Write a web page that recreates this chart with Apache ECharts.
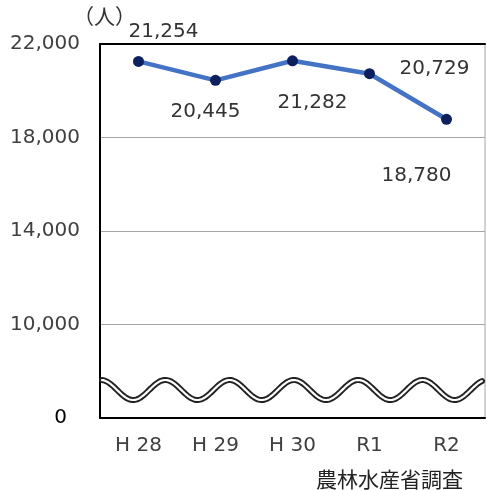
<!DOCTYPE html>
<html><head><meta charset="utf-8">
<script src="https://cdn.jsdelivr.net/npm/echarts@6/dist/echarts.min.js"></script>
<style>html,body{margin:0;padding:0;background:#fff}#c{width:487px;height:490px}</style>
</head><body><div id="c"></div>
<script>
const categories = ['H 28', 'H 29', 'H 30', 'R1', 'R2'];
const values = [21254, 20445, 21282, 20729, 18780];
const yTicks = [6000, 10000, 14000, 18000, 22000];
const yTickLabels = ['0', '10,000', '14,000', '18,000', '22,000'];
const unitLabel = '（人）';
const sourceLabel = '農林水産省調査';
// label offsets (style, not data)
const labelOffsets = [[25, -30], [-10, 31], [20, 42], [65, -5], [-30, 57]];

const chart = echarts.init(document.getElementById('c'), null, {renderer: 'canvas'});
const FONT = 'DejaVu Sans';
const grid = {left: 100, right: 2, top: 44, bottom: 72};

const x0 = grid.left + 2, x1 = 487 - grid.right - 3;
const bottomY = 490 - grid.bottom;
const cy = bottomY - 28, amp = 10, period = 64.3, phase = 101;
const pts = [];
for (let x = x0; x <= x1; x += 1) {
  pts.push([x, cy - amp * Math.cos(2 * Math.PI * (x - phase) / period)]);
}

const option = {
  animation: false,
  grid: Object.assign({show: true, borderColor: '#a6a6a6', borderWidth: 1, backgroundColor: 'transparent'}, grid),
  xAxis: [{
    type: 'category', data: categories, boundaryGap: true,
    axisLine: {show: true, lineStyle: {color: '#000', width: 2}},
    axisTick: {show: false},
    axisLabel: {color: '#404040', fontFamily: FONT, fontSize: 20, margin: 18}
  }, {
    type: 'category', data: categories, position: 'top',
    axisLine: {show: true, lineStyle: {color: '#000', width: 2}},
    axisTick: {show: false}, axisLabel: {show: false}
  }],
  yAxis: {
    type: 'value', min: 6000, max: 22000, interval: 4000,
    axisLine: {show: true, lineStyle: {color: '#000', width: 2}},
    axisTick: {show: false},
    splitLine: {show: true, lineStyle: {color: '#a6a6a6', width: 1}},
    axisLabel: {
      color: '#404040', fontFamily: FONT, fontSize: 20, margin: 20,
      formatter: function (v) {
        const i = yTicks.indexOf(v);
        const t = i >= 0 ? yTickLabels[i] : '';
        return v === yTicks[0] ? '{z|' + t + '}' : t;
      },
      rich: {z: {color: '#000', fontFamily: FONT, fontSize: 20, padding: [0, 13, 0, 0]}}
    }
  },
  series: [{
    type: 'line', data: values.map((v, i) => ({
      value: v,
      label: {offset: labelOffsets[i]}
    })),
    xAxisIndex: 0,
    lineStyle: {color: '#4472C4', width: 4.5},
    itemStyle: {color: '#0d1f5c'},
    symbol: 'circle', symbolSize: 11,
    label: {
      show: true, position: 'inside', align: 'center', verticalAlign: 'middle',
      color: '#333', fontFamily: FONT, fontSize: 20,
      formatter: p => p.value.toLocaleString('en-US')
    },
    z: 5
  }],
  graphic: [
    {type: 'text', left: 73, top: 6, style: {text: unitLabel, fontFamily: 'Noto Sans CJK JP', fontSize: 21, fill: '#333'}},
    {type: 'text', right: 24, top: 469, style: {text: sourceLabel, fontFamily: 'Noto Sans CJK JP', fontSize: 21, fill: '#222'}},
    {type: 'polyline', shape: {points: pts, smooth: 0}, style: {stroke: '#222', lineWidth: 6, fill: null, lineCap: 'round'}, z: 10},
    {type: 'polyline', shape: {points: pts, smooth: 0}, style: {stroke: '#fff', lineWidth: 2.2, fill: null, lineCap: 'round'}, z: 11}
  ]
};
chart.setOption(option);
</script></body></html>
